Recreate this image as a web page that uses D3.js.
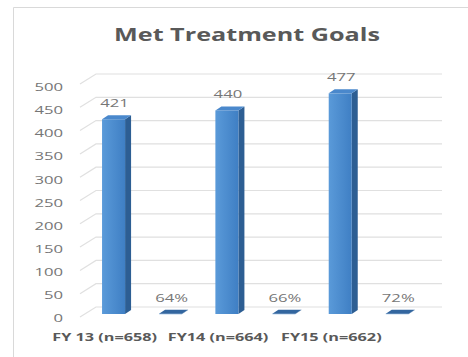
<!DOCTYPE html>
<html>
<head>
<meta charset="utf-8">
<script src="https://cdn.jsdelivr.net/npm/d3@7"></script>
<style>
  html, body { margin: 0; padding: 0; background: #fff; }
  svg { display: block; }
  text { font-family: "Open Sans", "Liberation Sans", sans-serif; fill: #595959; }
</style>
</head>
<body>
<svg id="chart" width="468" height="357"></svg>
<script>
// Data
const categories = ["FY 13 (n=658)", "FY14 (n=664)", "FY15 (n=662)"];
const series = ["met", "pct"];
const metCounts = [421, 440, 477];
const metShare = [0.64, 0.66, 0.72];
const yTickValues = [0, 50, 100, 150, 200, 250, 300, 350, 400, 450, 500];
const chartTitle = "Met Treatment Goals";

const W = 468, H = 357;
const svg = d3.select("#chart");
const textStretch = 1.45;   // wide lettering

// Frame
svg.append("path")
  .attr("d", `M13.5,${H} V7.5 H${W}`)
  .attr("fill", "none").attr("stroke", "#d9d9d9").attr("stroke-width", 1);

// Scales
const x0 = d3.scaleBand().domain(categories).range([85.4, 425.4]);
const x1 = d3.scaleBand().domain(series).range([0, x0.bandwidth()])
  .paddingInner(0.596).paddingOuter(0.292);
const y = d3.scaleLinear().domain([0, 500]).range([314, 82.7]);       // bar plane
const yBack = d3.scaleLinear().domain([0, 500]).range([307, 74]);     // back wall
const yFront = d3.scaleLinear().domain([0, 500]).range([318, 87]);    // front plane (axis)
const xLab = x0.copy().range([48, 388]);

// Walls: side-wall diagonals + back-wall gridlines
const grid = svg.append("g").attr("stroke", "#e0e0e0").attr("stroke-width", 1.2).attr("fill", "none");
grid.selectAll("path.g").data(yTickValues).join("path")
  .attr("class", "g")
  .attr("d", v => `M80,${yBack(v) + 10} L96,${yBack(v)} H442`);

// Y axis (front plane)
const yAxis = svg.append("g")
  .attr("transform", "translate(63,0)")
  .call(d3.axisLeft(yFront).tickValues(yTickValues).tickSize(0).tickPadding(0));
yAxis.select(".domain").remove();
yAxis.selectAll("text")
  .attr("font-size", 11.5)
  .style("font-family", '"Open Sans", sans-serif')
  .style("fill", "#767676")
  .attr("transform", `scale(${textStretch},1)`);

// Bar geometry
const dx = 6, dy = 4;
const defs = svg.append("defs");
const grad = defs.append("linearGradient").attr("id", "frontGrad")
  .attr("x1", "0").attr("x2", "1").attr("y1", "0").attr("y2", "0");
grad.append("stop").attr("offset", "0").attr("stop-color", "#5a9ad9");
grad.append("stop").attr("offset", "1").attr("stop-color", "#3f7fc4");

const bars = [];
categories.forEach((c, i) => {
  bars.push({ cat: c, key: "met", value: metCounts[i], label: String(metCounts[i]) });
  bars.push({ cat: c, key: "pct", value: metShare[i], label: d3.format(".0%")(metShare[i]) });
});

const w = x1.bandwidth();
const barG = svg.append("g");
const bar = barG.selectAll("g.bar").data(bars).join("g").attr("class", "bar");

const bx = d => x0(d.cat) + x1(d.key);
// side face
bar.append("path")
  .attr("fill", "#2d5e93")
  .attr("d", d => {
    const x = bx(d), t = y(d.value), b = y(0);
    return `M${x + w},${t} L${x + w + dx},${t - dy} L${x + w + dx},${b - dy} L${x + w},${b} Z`;
  });
// front face
bar.append("rect")
  .attr("fill", "url(#frontGrad)")
  .attr("x", d => bx(d)).attr("width", w)
  .attr("y", d => y(d.value)).attr("height", d => Math.max(0.5, y(0) - y(d.value)));
// top face
bar.append("path")
  .attr("fill", d => d.key === "met" ? "#4a88cc" : "#33669f")
  .attr("d", d => {
    const x = bx(d), t = y(d.value);
    return `M${x},${t} L${x + dx},${t - dy} L${x + w + dx},${t - dy} L${x + w},${t} Z`;
  });

// Value labels
svg.append("g").selectAll("text").data(bars).join("text")
  .attr("text-anchor", "middle")
  .attr("font-size", 11.5)
  .style("fill", "#767676")
  .attr("transform", d => `translate(${bx(d) + w / 2 + 1},${y(d.value) - 12}) scale(${textStretch},1)`)
  .text(d => d.label);

// Category axis
const xAxis = svg.append("g")
  .attr("transform", "translate(0,333)")
  .call(d3.axisBottom(xLab).tickSize(0).tickPadding(0));
xAxis.select(".domain").remove();
xAxis.selectAll("text")
  .attr("font-size", 11.2).attr("font-weight", 700)
  .style("font-family", '"Open Sans", sans-serif')
  .style("fill", "#595959")
  .attr("dy", "0.71em")
  .attr("transform", `scale(${textStretch},1)`);

// Title
svg.append("text")
  .attr("text-anchor", "middle")
  .attr("font-size", 18).attr("font-weight", 700)
  .attr("transform", `translate(247,41) scale(1.4,1)`)
  .text(chartTitle);
</script>
</body>
</html>
